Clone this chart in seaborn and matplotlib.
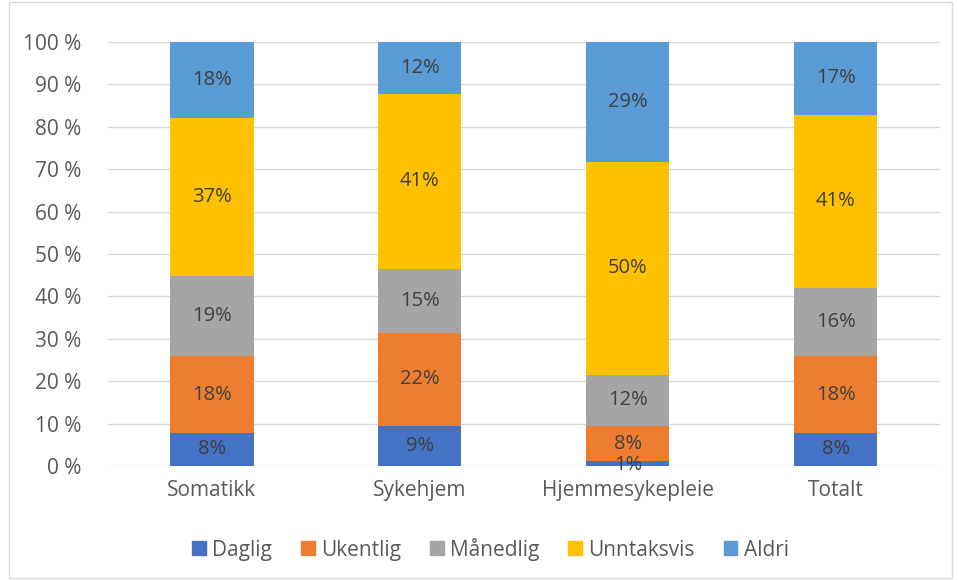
import numpy as np
import pandas as pd
import matplotlib.pyplot as plt
import seaborn as sns
from matplotlib.patches import Rectangle

categories = ["Somatikk", "Sykehjem", "Hjemmesykepleie", "Totalt"]
series = ["Daglig", "Ukentlig", "Månedlig", "Unntaksvis", "Aldri"]
daglig = [7.8, 9.4, 1.2, 7.8]
ukentlig = [18.1, 22.0, 8.2, 18.1]
maanedlig = [18.9, 15.1, 12.1, 16.1]
unntaksvis = [37.3, 41.2, 50.2, 40.8]
aldri = [17.9, 12.3, 28.3, 17.2]
labels = [
    ["8%", "9%", "1%", "8%"],
    ["18%", "22%", "8%", "18%"],
    ["19%", "15%", "12%", "16%"],
    ["37%", "41%", "50%", "41%"],
    ["18%", "12%", "29%", "17%"],
]
colors = ["#4472C4", "#ED7D31", "#A5A5A5", "#FFC000", "#5B9BD5"]

sns.set_style("white")
plt.rcParams["font.family"] = ["Open Sans", "DejaVu Sans"]

values = np.array([daglig, ukentlig, maanedlig, unntaksvis, aldri])
cum = values.cumsum(axis=0)
# scale to exactly 100 %
cum = cum / cum[-1] * 100
df = pd.DataFrame(cum.T, columns=series)
df["kategori"] = categories

fig = plt.figure(figsize=(9.58, 5.8), dpi=100)
ax = fig.add_axes([0.1127, 0.1966, 0.8683, 0.731])

# stacked bars: draw cumulative totals from the top layer down
for i in range(len(series) - 1, -1, -1):
    sns.barplot(data=df, x="kategori", y=series[i], color=colors[i],
                width=0.4, ax=ax, saturation=1, zorder=2,
                linewidth=0, legend=False)

bottoms = np.vstack([np.zeros(4), cum[:-1]])
for i in range(len(series)):
    for j in range(4):
        y = (bottoms[i, j] + cum[i, j]) / 2
        if i == 0 and j == 2:
            y = 0.3
        ax.text(j, y, labels[i][j], ha="center", va="center",
                fontsize=14.5, color="#404040", zorder=3)

ax.set_xlim(-0.5, 3.5)
ax.set_ylim(0, 100)
ax.set_yticks(range(0, 101, 10))
ax.set_yticklabels([f"{v} %" for v in range(0, 101, 10)])
ax.set_xlabel("")
ax.set_ylabel("")
ax.grid(True, axis="y", color="#D9D9D9", linewidth=1, zorder=0)
ax.set_axisbelow(True)
for s in ax.spines.values():
    s.set_visible(False)
ax.tick_params(axis="both", length=0, labelsize=15, colors="#595959")
ax.tick_params(axis="y", pad=19)
ax.tick_params(axis="x", pad=10)

handles = [Rectangle((0, 0), 1, 1, color=c) for c in colors]
fig.legend(handles, series, loc="center",
           bbox_to_anchor=(0.512, 0.053), ncol=5, frameon=False,
           fontsize=15, labelcolor="#595959", handlelength=0.65,
           handleheight=0.65, handletextpad=0.3, columnspacing=1.4)

fig.patches.append(Rectangle((0.009, 0.003), 0.985, 0.994, transform=fig.transFigure,
                             fill=False, edgecolor="#D9D9D9", linewidth=1))

fig.savefig("out.png", dpi=100)
